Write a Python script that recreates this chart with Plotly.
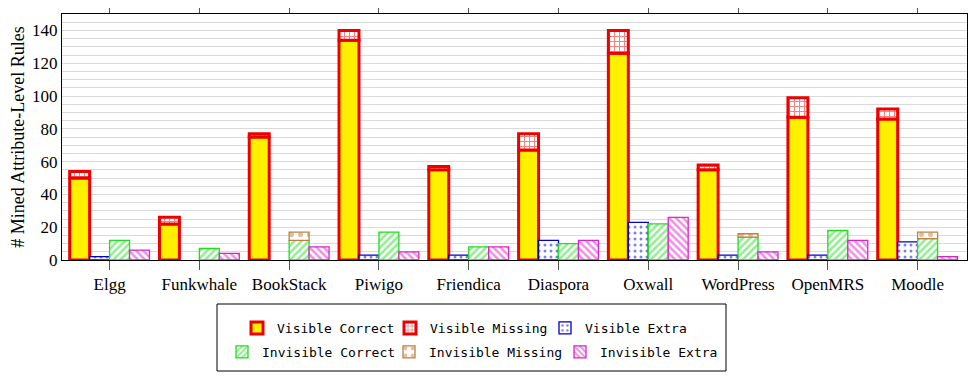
import plotly.graph_objects as go

apps = ["Elgg", "Funkwhale", "BookStack", "Piwigo", "Friendica", "Diaspora",
        "Oxwall", "WordPress", "OpenMRS", "Moodle"]
visible_correct = [50, 22, 75, 134, 55, 67, 126, 55, 87, 86]
visible_missing = [4, 4, 2, 6, 2, 10, 14, 3, 12, 6]
visible_extra = [2, 0, 0, 3, 3, 12, 23, 3, 3, 11]
invisible_correct = [12, 7, 12, 17, 8, 10, 22, 14, 18, 13]
invisible_missing = [0, 0, 5, 0, 0, 0, 0, 2, 0, 4]
invisible_extra = [6, 4, 8, 5, 8, 12, 26, 5, 12, 2]


def nz(values):
    # zero-height segments are not drawn
    return [v if v else None for v in values]


RED = "#ee0000"
YELLOW = "#fff000"
BLUE = "#0000cc"
GREEN = "#22dd22"
BROWN = "#bf8040"
MAGENTA = "#dd22cc"

fig = go.Figure()
fig.add_trace(go.Bar(
    x=apps, y=nz(visible_correct), name="Visible Correct", offsetgroup="v",
    marker=dict(color=YELLOW, line=dict(color=RED, width=3)),
    legend="legend", legendwidth=108))
fig.add_trace(go.Bar(
    x=apps, y=nz(visible_missing), base=visible_correct, name="Visible Missing", offsetgroup="v",
    marker=dict(color=RED, line=dict(color=RED, width=3),
                pattern=dict(shape="+", fgcolor=RED, bgcolor="white", size=5, solidity=0.35)),
    legend="legend", legendwidth=110))
fig.add_trace(go.Bar(
    x=apps, y=nz(visible_extra), name="Visible Extra", offsetgroup="ve",
    marker=dict(color="white", line=dict(color=BLUE, width=1.3),
                pattern=dict(shape=".", fgcolor=BLUE, bgcolor="white", size=6, solidity=0.2)),
    legend="legend"))
fig.add_trace(go.Bar(
    x=apps, y=nz(invisible_correct), name="Invisible Correct", offsetgroup="i",
    marker=dict(color="white", line=dict(color=GREEN, width=1.3),
                pattern=dict(shape="/", fgcolor=GREEN, bgcolor="white", size=5, solidity=0.5)),
    legend="legend2", legendwidth=122))
fig.add_trace(go.Bar(
    x=apps, y=nz(invisible_missing), base=invisible_correct, name="Invisible Missing", offsetgroup="i",
    marker=dict(color="white", line=dict(color=BROWN, width=1.3),
                pattern=dict(shape=".", fgcolor=BROWN, bgcolor="white", size=9, solidity=0.25)),
    legend="legend2", legendwidth=126))
fig.add_trace(go.Bar(
    x=apps, y=nz(invisible_extra), name="Invisible Extra", offsetgroup="ie",
    marker=dict(color="white", line=dict(color=MAGENTA, width=1.3),
                pattern=dict(shape="\\", fgcolor=MAGENTA, bgcolor="white", size=5, solidity=0.5)),
    legend="legend2"))

# the page body adds an 8px offset; figure coordinates below are chosen so the
# plot lands at screen x 62..967, y 14..260
OFF = 8
W, H = 978 - OFF, 378 - OFF
L, T = 62 - OFF, 14 - OFF
R = W - (967 - OFF)
B = H - (260 - OFF)
pw, ph = 905, 246


def px_x(sx):
    return (sx - 62) / pw


def px_y(sy):
    return (260 - sy) / ph


legend_font = dict(family="DejaVu Sans Mono", size=13, color="black")
fig.update_layout(
    width=W, height=H,
    margin=dict(l=L, r=R, t=T, b=B, autoexpand=False),
    plot_bgcolor="white", paper_bgcolor="white",
    barmode="group", bargap=0.111, bargroupgap=0,
    font=dict(family="Liberation Serif", size=17, color="black"),
    legend=dict(orientation="h", x=px_x(237), y=px_y(313), xanchor="left", yanchor="top",
                font=legend_font, bgcolor="rgba(0,0,0,0)", borderwidth=0),
    legend2=dict(orientation="h", x=px_x(222), y=px_y(337), xanchor="left", yanchor="top",
                 font=legend_font, bgcolor="rgba(0,0,0,0)", borderwidth=0),
    shapes=[dict(type="rect", xref="paper", yref="paper",
                 x0=px_x(217), x1=px_x(726), y0=px_y(371), y1=px_y(304),
                 line=dict(color="black", width=1))],
)
fig.update_xaxes(
    range=[-0.53, 9.55], showline=True, linecolor="black", linewidth=1, mirror="ticks",
    ticks="outside", ticklen=9, tickcolor="#555555", showgrid=False,
    tickfont=dict(family="Liberation Serif", size=17))
fig.update_yaxes(
    range=[0, 150], tick0=0, dtick=20, showline=True, linecolor="black", linewidth=1,
    mirror=True, ticks="", showgrid=True, gridcolor="#dadada", zeroline=False,
    minor=dict(dtick=5, showgrid=True, gridcolor="#dadada"),
    tickfont=dict(family="Liberation Serif", size=17),
    title=dict(text="# Mined Attribute-Level Rules", font=dict(family="Liberation Serif", size=18), standoff=8))

fig.write_html("out.html")
